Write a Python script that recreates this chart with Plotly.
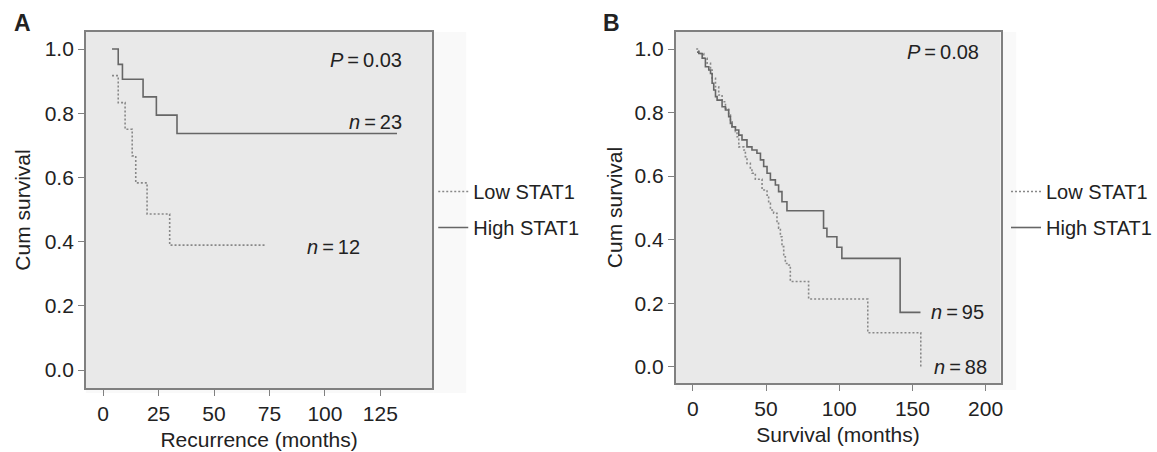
import plotly.graph_objects as go

# ---------------- data ----------------
# Panel A: recurrence (months)
a_low_months = [4, 6.8, 9.9, 13.1, 14.7, 19.8, 30, 73.5]
a_low_surv = [0.917, 0.833, 0.75, 0.667, 0.583, 0.486, 0.389, 0.389]
a_high_months = [4, 6.8, 8.7, 18, 24, 33.3, 132.5]
a_high_surv = [1.0, 0.952, 0.906, 0.851, 0.794, 0.737, 0.737]

# Panel B: survival (months)
b_low_months = [2.3, 4.1, 5.2, 7.5, 9.8, 12.1, 13.2, 15.5, 17.7, 20,
                22.3, 24.5, 25.7, 26.8, 29.1, 30.2, 31.4, 34.8, 35.9, 37,
                39.3, 40.4, 42.7, 47.3, 50.7, 51.8, 53, 55.2, 57.5, 58.6,
                59.8, 60.9, 62.1, 63.2, 65.5, 66.6, 79.1, 119.5, 155.7]
b_low_surv = [1.0, 0.992, 0.986, 0.971, 0.955, 0.934, 0.908, 0.881, 0.855, 0.834,
              0.813, 0.792, 0.771, 0.755, 0.74, 0.724, 0.692, 0.682, 0.661, 0.64,
              0.619, 0.609, 0.59, 0.556, 0.54, 0.514, 0.493, 0.483, 0.451, 0.436,
              0.409, 0.378, 0.346, 0.325, 0.32, 0.268, 0.213, 0.107, 0.0]
b_high_months = [2.9, 4.1, 6.4, 8.6, 10.9, 12.1, 13.2, 14.3, 15.5, 16.6,
                 20, 22.3, 24.5, 25.7, 26.8, 29.1, 31.4, 33.6, 37, 40.4,
                 43.8, 46.2, 48.4, 50.7, 53, 56.4, 58.6, 60.9, 64.3, 89.3,
                 91.6, 98.4, 101.8, 141.6, 155.5]
b_high_surv = [0.99, 0.986, 0.971, 0.944, 0.934, 0.923, 0.892, 0.871, 0.85, 0.839,
               0.818, 0.808, 0.787, 0.766, 0.755, 0.745, 0.729, 0.714, 0.692, 0.682,
               0.672, 0.651, 0.63, 0.609, 0.588, 0.572, 0.551, 0.519, 0.491, 0.436,
               0.409, 0.376, 0.341, 0.171, 0.171]

series_names = ["Low STAT1", "High STAT1"]
a_x_ticks = [0, 25, 50, 75, 100, 125]
b_x_ticks = [0, 50, 100, 150, 200]
y_ticks = [0.0, 0.2, 0.4, 0.6, 0.8, 1.0]
y_tick_text = ["0.0", "0.2", "0.4", "0.6", "0.8", "1.0"]

# ---------------- styling ----------------
W, H = 1157, 452
FONT = "Liberation Sans, Arial, Helvetica, sans-serif"
TXT = "#222222"
SOLID = "#666666"
DOTTED = "#888888"
FRAME = "#808080"
BG = "#e9e9e9"
FS = 21

def px_x(p):
    return p / W

def px_y(p):
    return 1 - p / H

fig = go.Figure()

def add_pair(low_x, low_y, high_x, high_y, xa, ya, legend):
    fig.add_trace(go.Scatter(x=low_x, y=low_y, mode="lines", line_shape="hv",
                             line=dict(color=DOTTED, width=1.6, dash="2px,2px"),
                             name=series_names[0], xaxis=xa, yaxis=ya,
                             legend=legend, legendgroup=legend + "low",
                             hoverinfo="x+y"))
    fig.add_trace(go.Scatter(x=high_x, y=high_y, mode="lines", line_shape="hv",
                             line=dict(color=SOLID, width=1.6),
                             name=series_names[1], xaxis=xa, yaxis=ya,
                             legend=legend, legendgroup=legend + "high",
                             hoverinfo="x+y"))

add_pair(a_low_months, a_low_surv, a_high_months, a_high_surv, "x", "y", "legend")
add_pair(b_low_months, b_low_surv, b_high_months, b_high_surv, "x2", "y2", "legend2")

axis_common = dict(showgrid=False, zeroline=False, showline=True, mirror=True,
                   linecolor=FRAME, linewidth=1.5, ticks="outside", ticklen=6,
                   tickwidth=1.2, tickcolor=FRAME,
                   tickfont=dict(family=FONT, size=FS, color=TXT))

legend_common = dict(xanchor="left", yanchor="top", bgcolor="rgba(0,0,0,0)",
                     font=dict(family=FONT, size=20, color=TXT),
                     tracegroupgap=7, itemwidth=30, traceorder="grouped")

def title(text, standoff):
    return dict(text=text, standoff=standoff,
                font=dict(family=FONT, size=FS, color=TXT))

fig.update_layout(
    width=W, height=H,
    margin=dict(l=0, r=0, t=0, b=0),
    paper_bgcolor="white",
    plot_bgcolor=BG,
    font=dict(family=FONT, size=FS, color=TXT),
    xaxis=dict(domain=[px_x(86), px_x(433)], range=[-7.8, 148.4],
               tickvals=a_x_ticks, anchor="y",
               title=title("Recurrence (months)", 8), **axis_common),
    yaxis=dict(domain=[px_y(388), px_y(32)], range=[-0.056, 1.053],
               tickvals=y_ticks, ticktext=y_tick_text, anchor="x",
               title=title("Cum survival", 8), **axis_common),
    xaxis2=dict(domain=[px_x(676.7), px_x(1002.3)], range=[-11.8, 210.2],
                tickvals=b_x_ticks, anchor="y2",
                title=title("Survival (months)", 8), **axis_common),
    yaxis2=dict(domain=[px_y(383), px_y(32)], range=[-0.0513, 1.0535],
                tickvals=y_ticks, ticktext=y_tick_text, anchor="x2",
                title=title("Cum survival", 6), **axis_common),
    legend=dict(x=px_x(434), y=px_y(172), **legend_common),
    legend2=dict(x=px_x(1008), y=px_y(172), **legend_common),
    showlegend=True,
)

# faint chart-area background strips just outside the frames
for (x0, x1, y0, y1) in ((434, 467, 393, 32), (86, 434, 393, 389),
                         (1003, 1018, 390, 32), (676.7, 1003, 390, 384)):
    fig.add_shape(type="rect", xref="paper", yref="paper", layer="below",
                  x0=px_x(x0), x1=px_x(x1), y0=px_y(y0), y1=px_y(y1),
                  fillcolor="#f9f9f9", line=dict(width=0))

def note(text, x, y, xref, yref):
    fig.add_annotation(text=text, x=x, y=y, xref=xref, yref=yref,
                       xanchor="right", yanchor="middle", showarrow=False,
                       font=dict(family=FONT, size=20, color=TXT))

TS = "\u2009"
note("<i>P</i>" + TS + "=" + TS + "0.03", 135.8, 0.966, "x", "y")
note("<i>n</i>" + TS + "=" + TS + "23", 135.8, 0.773, "x", "y")
note("<i>n</i>" + TS + "=" + TS + "12", 116.8, 0.383, "x", "y")
note("<i>P</i>" + TS + "=" + TS + "0.08", 197, 0.99, "x2", "y2")
note("<i>n</i>" + TS + "=" + TS + "95", 200.5, 0.172, "x2", "y2")
note("<i>n</i>" + TS + "=" + TS + "88", 202.5, 0.0, "x2", "y2")

# panel letters
for letter, xp in (("A", 12), ("B", 602)):
    fig.add_annotation(text="<b>" + letter + "</b>", x=px_x(xp), y=px_y(23),
                       xref="paper", yref="paper", xanchor="left",
                       yanchor="middle", showarrow=False,
                       font=dict(family=FONT, size=23, color=TXT))

fig.write_html("out.html",
               config={"displayModeBar": False},
               post_script="document.body.style.margin='0';"
                           "document.body.style.padding='0';"
                           "document.body.style.overflow='hidden';")
